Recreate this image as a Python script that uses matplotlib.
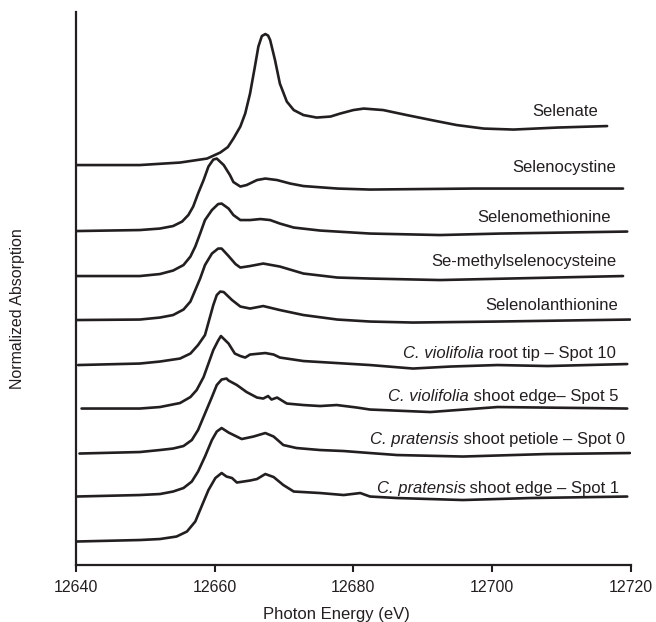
import numpy as np
import matplotlib.pyplot as plt

plt.rcParams['font.family'] = ['Liberation Sans', 'DejaVu Sans']

# normalized spectra (pre-edge ~ 0)
e_selenate = [12640.0, 12649.2, 12655.0, 12658.9, 12660.8, 12661.9, 12662.7, 12663.7, 12664.4, 12665.1,
              12665.8, 12666.3, 12666.8, 12667.3, 12667.7, 12668.0, 12668.7, 12669.4, 12670.4, 12671.4,
              12672.8, 12674.7, 12676.7, 12678.1, 12680.0, 12681.5, 12684.3, 12687.7, 12691.6, 12694.9,
              12698.8, 12703.1, 12709.4, 12716.6]
a_selenate = [0.00, 0.00, 0.05, 0.13, 0.25, 0.36, 0.53, 0.77, 1.03, 1.43,
              1.97, 2.37, 2.58, 2.62, 2.59, 2.50, 2.10, 1.63, 1.27, 1.10,
              1.00, 0.95, 0.97, 1.03, 1.10, 1.13, 1.10, 1.00, 0.89, 0.80,
              0.73, 0.71, 0.75, 0.78]

e_secys = [12640.0, 12649.2, 12652.1, 12654.0, 12655.3, 12656.2, 12656.9, 12657.6, 12658.4, 12659.1,
           12659.8, 12660.3, 12661.3, 12662.2, 12662.7, 12663.7, 12664.6, 12666.1, 12667.3, 12669.0,
           12670.9, 12672.8, 12677.7, 12682.4, 12697.3, 12718.9]
a_secys = [0.00, 0.02, 0.05, 0.10, 0.19, 0.32, 0.49, 0.75, 1.02, 1.29,
           1.43, 1.45, 1.32, 1.12, 0.98, 0.89, 0.92, 1.02, 1.05, 1.02,
           0.95, 0.90, 0.85, 0.83, 0.85, 0.85]

e_semet = [12640.0, 12649.2, 12652.1, 12654.0, 12655.5, 12656.5, 12657.2, 12657.9, 12658.6, 12659.6,
           12660.5, 12661.0, 12662.0, 12662.7, 12663.7, 12665.1, 12666.6, 12668.0, 12669.4, 12671.4,
           12675.2, 12682.4, 12692.5, 12701.2, 12719.5]
a_semet = [0.00, 0.00, 0.04, 0.11, 0.22, 0.39, 0.59, 0.85, 1.12, 1.32,
           1.44, 1.45, 1.35, 1.22, 1.12, 1.12, 1.14, 1.12, 1.05, 0.97,
           0.91, 0.85, 0.82, 0.85, 0.89]

e_mesecys = [12640.0, 12649.2, 12652.1, 12654.0, 12655.5, 12656.5, 12657.2, 12657.9, 12658.6, 12659.6,
             12660.5, 12661.0, 12662.0, 12663.0, 12663.7, 12665.1, 12667.0, 12669.4, 12672.8, 12677.7,
             12682.4, 12692.5, 12718.9]
a_mesecys = [0.00, 0.01, 0.05, 0.10, 0.21, 0.37, 0.60, 0.83, 1.10, 1.33,
             1.43, 1.43, 1.28, 1.12, 1.05, 1.08, 1.13, 1.07, 0.93, 0.85,
             0.83, 0.80, 0.88]

e_selan = [12640.3, 12649.2, 12652.1, 12655.0, 12656.5, 12657.6, 12658.6, 12659.1, 12659.8, 12660.3,
           12660.8, 12661.3, 12662.5, 12663.7, 12665.1, 12667.0, 12669.4, 12672.8, 12677.7, 12682.4,
           12688.6, 12700.8, 12719.9]
a_selan = [0.00, 0.03, 0.07, 0.13, 0.23, 0.40, 0.60, 0.85, 1.20, 1.40,
           1.47, 1.46, 1.30, 1.17, 1.13, 1.18, 1.10, 1.00, 0.91, 0.87,
           0.85, 0.87, 0.91]

e_root = [12640.8, 12649.2, 12652.1, 12655.0, 12656.5, 12657.4, 12658.4, 12659.1, 12659.8, 12660.5,
          12660.9, 12662.0, 12662.9, 12663.7, 12664.4, 12665.1, 12667.3, 12668.5, 12669.4, 12672.8,
          12677.6, 12682.4, 12688.6, 12694.0, 12700.8, 12708.0, 12719.5]
a_root = [0.00, 0.00, 0.03, 0.11, 0.23, 0.37, 0.63, 0.90, 1.17, 1.36,
          1.45, 1.30, 1.10, 1.05, 1.02, 1.08, 1.11, 1.08, 1.02, 0.95,
          0.91, 0.87, 0.80, 0.84, 0.87, 0.85, 0.89]

e_shoot5 = [12640.5, 12649.2, 12652.1, 12654.0, 12655.5, 12656.7, 12657.6, 12658.6, 12659.6, 12660.3,
            12661.0, 12661.7, 12662.0, 12663.2, 12664.6, 12666.1, 12667.0, 12667.7, 12668.2, 12669.0,
            12670.4, 12672.8, 12675.2, 12677.6, 12680.5, 12682.4, 12691.1, 12700.8, 12719.5]
a_shoot5 = [0.00, 0.03, 0.07, 0.10, 0.15, 0.27, 0.47, 0.80, 1.13, 1.37,
            1.48, 1.50, 1.46, 1.37, 1.23, 1.12, 1.10, 1.15, 1.08, 1.12,
            1.00, 0.97, 0.95, 0.97, 0.92, 0.88, 0.83, 0.93, 0.90]

e_petiole = [12640.0, 12649.2, 12652.1, 12654.0, 12655.5, 12656.7, 12657.6, 12658.6, 12659.6, 12660.3,
             12661.0, 12662.0, 12663.9, 12665.6, 12667.3, 12668.5, 12669.9, 12671.8, 12675.2, 12678.6,
             12682.4, 12686.3, 12695.8, 12707.9, 12719.9]
a_petiole = [0.00, 0.03, 0.05, 0.10, 0.17, 0.30, 0.50, 0.80, 1.13, 1.30,
             1.37, 1.28, 1.15, 1.20, 1.27, 1.20, 1.03, 0.97, 0.93, 0.91,
             0.87, 0.83, 0.80, 0.85, 0.87]

e_shoot1 = [12640.0, 12649.2, 12652.1, 12654.5, 12656.0, 12657.2, 12658.1, 12659.1, 12660.1, 12661.0,
            12661.7, 12662.5, 12663.2, 12665.1, 12666.1, 12667.3, 12668.5, 12669.9, 12671.4, 12675.2,
            12678.6, 12681.0, 12682.4, 12686.3, 12695.8, 12705.5, 12719.5]
a_shoot1 = [0.00, 0.03, 0.05, 0.10, 0.20, 0.40, 0.70, 1.03, 1.27, 1.37,
            1.30, 1.27, 1.18, 1.22, 1.25, 1.35, 1.29, 1.13, 1.00, 0.97,
            0.93, 0.97, 0.90, 0.87, 0.83, 0.87, 0.90]

# label = (italic part, upright part)
names = [("", "Selenate"), ("", "Selenocystine"), ("", "Selenomethionine"),
         ("", "Se-methylselenocysteine"), ("", "Selenolanthionine"),
         ("C. violifolia", " root tip – Spot 10"),
         ("C. violifolia", " shoot edge– Spot 5"),
         ("C. pratensis", " shoot petiole – Spot 0"),
         ("C. pratensis", " shoot edge – Spot 1")]
offsets = [8.00, 6.68, 5.78, 4.90, 4.00, 3.13, 2.23, 1.37, 0.47]

energies = [e_selenate, e_secys, e_semet, e_mesecys, e_selan, e_root, e_shoot5, e_petiole, e_shoot1]
spectra = [a_selenate, a_secys, a_semet, a_mesecys, a_selan, a_root, a_shoot5, a_petiole, a_shoot1]

# label anchor (right edge, vertical centre) in data units
label_x = [12715.3, 12717.9, 12717.2, 12717.9, 12718.2, 12717.8, 12718.2, 12719.2, 12718.4]
label_y = [9.07, 7.95, 6.95, 6.07, 5.20, 4.24, 3.37, 2.51, 1.53]

col = '#231f20'
fig = plt.figure(figsize=(6.56, 6.22), dpi=100)
ax = fig.add_axes([0.1159, 0.0916, 0.8455, 0.889])

for e, a, off in zip(energies, spectra, offsets):
    ax.plot(e, np.array(a) + off, color=col, lw=1.9, solid_joinstyle='round', solid_capstyle='round')

for (it, rm), lx, ly in zip(names, label_x, label_y):
    t = ax.text(lx, ly, rm, ha='right', va='center', fontsize=12, color=col)
    if it:
        ax.annotate(it, xy=(0, 0), xycoords=t, ha='right', va='bottom',
                    fontsize=12, fontstyle='italic', color=col)

ax.set_xlim(12640, 12720)
ax.set_ylim(0, 11.06)
ax.set_xticks([12640, 12660, 12680, 12700, 12720])
ax.set_yticks([])
ax.tick_params(axis='x', direction='out', length=5, width=1.5, labelsize=11.5, colors=col, pad=6)
for s in ['top', 'right']:
    ax.spines[s].set_visible(False)
for s in ['left', 'bottom']:
    ax.spines[s].set_linewidth(1.6)
    ax.spines[s].set_color(col)

ax.set_xlabel("Photon Energy (eV)", fontsize=12, color=col)
ax.xaxis.set_label_coords(0.47, -0.089)
ax.xaxis.label.set_va('center')
ax.set_ylabel("Normalized Absorption", fontsize=11.5, color=col)
ax.yaxis.set_label_coords(-0.105, 0.464)
ax.yaxis.label.set_va('center')

fig.savefig('out.png', dpi=100)
